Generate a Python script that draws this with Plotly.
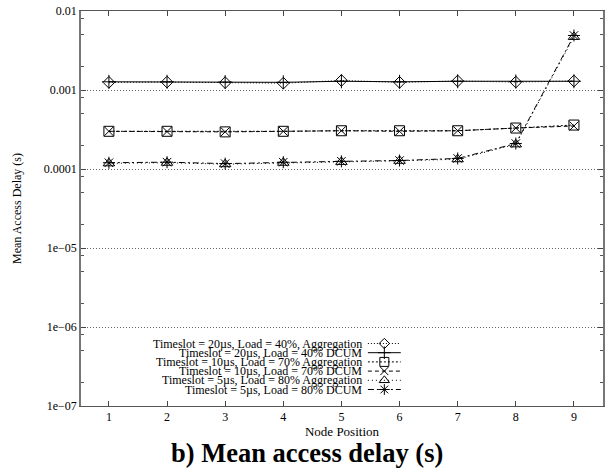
import plotly.graph_objects as go

# ---- data ----
node_position = [1, 2, 3, 4, 5, 6, 7, 8, 9]
agg_20us_40 = [0.00125, 0.00126, 0.00124, 0.00122, 0.00132, 0.00125, 0.00130, 0.00126, 0.00130]
dcum_20us_40 = [0.00127, 0.00127, 0.00126, 0.00125, 0.00129, 0.00127, 0.00129, 0.00128, 0.00129]
agg_10us_70 = [0.000300, 0.000300, 0.000295, 0.000300, 0.000305, 0.000305, 0.000305, 0.000330, 0.000360]
dcum_10us_70 = [0.000300, 0.000298, 0.000295, 0.000300, 0.000305, 0.000300, 0.000305, 0.000330, 0.000350]
agg_5us_80 = [0.000118, 0.000120, 0.000115, 0.000120, 0.000123, 0.000127, 0.000133, 0.000205, 0.00470]
dcum_5us_80 = [0.000120, 0.000122, 0.000117, 0.000122, 0.000125, 0.000128, 0.000136, 0.000210, 0.00490]

series_names = [
    "Timeslot = 20\u00b5s, Load = 40%, Aggregation",
    "Timeslot = 20\u00b5s, Load = 40% DCUM",
    "Timeslot = 10\u00b5s, Load = 70% Aggregation",
    "Timeslot = 10\u00b5s, Load = 70% DCUM",
    "Timeslot = 5\u00b5s, Load = 80% Aggregation",
    "Timeslot = 5\u00b5s, Load = 80% DCUM",
]
series_values = [agg_20us_40, dcum_20us_40, agg_10us_70, dcum_10us_70, agg_5us_80, dcum_5us_80]
y_tick_vals = [1e-7, 1e-6, 1e-5, 1e-4, 1e-3, 1e-2]
y_tick_text = ["1e\u221207", "1e\u221206", "1e\u221205", "0.0001", "0.001", "0.01"]

# ---- styles ----
symbols = ["diamond-open", "cross-thin-open", "square-open", "x-thin-open", "triangle-up-open", "asterisk-open"]
sizes = [9, 10, 10, 9, 10, 10]
dashes = ["1px,2px", "solid", "2px,2px", "4px,3px", "1px,3px", "6px,3px,2px,3px"]
FONT = "Liberation Serif, Times New Roman, serif"

W, H = 605, 470
L, R, T, B = 81, 0, 11, 64
PW, PH = W - L - R, H - T - B

fig = go.Figure()
for name, vals, sym, sz, dash in zip(series_names, series_values, symbols, sizes, dashes):
    fig.add_trace(go.Scatter(
        x=node_position, y=vals, mode="lines+markers", name=name,
        line=dict(color="black", width=1, dash=dash),
        marker=dict(symbol=sym, size=sz, color="black", line=dict(color="black", width=1)),
        showlegend=False,
    ))

# custom legend (text left, sample right) on an overlay pixel axis
text_right = 364
samp_x0, samp_x1 = 369, 402
row_y0, row_dy = 343.5, 9.2
for i, (name, sym, sz, dash) in enumerate(zip(series_names, symbols, sizes, dashes)):
    yy = row_y0 + i * row_dy - T
    fig.add_trace(go.Scatter(
        x=[samp_x0 - L, samp_x1 - L], y=[yy, yy], mode="lines",
        line=dict(color="black", width=1, dash=dash),
        xaxis="x2", yaxis="y2", showlegend=False, hoverinfo="skip",
    ))
    fig.add_trace(go.Scatter(
        x=[(samp_x0 + samp_x1) / 2 - L], y=[yy], mode="markers",
        marker=dict(symbol=sym, size=sz - 1, color="black", line=dict(color="black", width=1)),
        xaxis="x2", yaxis="y2", showlegend=False, hoverinfo="skip",
    ))
    fig.add_annotation(
        x=(text_right - L) / PW, y=1 - yy / PH, xref="paper", yref="paper",
        text=name, showarrow=False, xanchor="right", yanchor="middle",
        font=dict(family=FONT, size=12, color="black"),
        borderpad=0,
    )

fig.update_layout(
    width=W, height=H,
    margin=dict(l=L, r=R, t=T, b=B),
    paper_bgcolor="white", plot_bgcolor="white",
    font=dict(family=FONT, size=12, color="black"),
    showlegend=False,
    xaxis=dict(
        range=[0.52, 9.5], tickvals=node_position, ticks="inside", ticklen=5,
        tickcolor="#444", showline=True, linecolor="#555", linewidth=1, mirror="ticks",
        showgrid=False, zeroline=False,
        title=dict(text="Node Position", font=dict(family=FONT, size=13), standoff=2),
        tickfont=dict(family=FONT, size=12),
    ),
    yaxis=dict(
        type="log", range=[-7, -2], tickvals=y_tick_vals, ticktext=y_tick_text,
        ticks="inside", ticklen=5, tickcolor="#444",
        showline=True, linecolor="#777", linewidth=1.5, mirror="ticks",
        showgrid=True, gridcolor="#666", griddash="1px,2px", gridwidth=1,
        zeroline=False,
        minor=dict(ticks="inside", ticklen=3, tickcolor="#555",
                   tickvals=[m * 10 ** e for e in range(-7, -2) for m in (2, 5, 8)]),
        title=dict(text="Mean Access Delay (s)", font=dict(family=FONT, size=12), standoff=20),
        tickfont=dict(family=FONT, size=12),
    ),
    xaxis2=dict(domain=[0, 1], range=[0, PW], overlaying="x", visible=False, fixedrange=True),
    yaxis2=dict(domain=[0, 1], range=[PH, 0], overlaying="y", visible=False, fixedrange=True),
)

fig.add_annotation(
    x=(308 - L) / PW, y=0, xref="paper", yref="paper", yshift=-(B - 17), xanchor="center", yanchor="middle",
    text="<b>b) Mean access delay (s)</b>", showarrow=False,
    font=dict(family=FONT, size=26.5, color="black"),
)

fig.write_html(
    "out.html",
    config={"displayModeBar": False},
    post_script="document.body.style.margin='0';document.body.style.padding='0';document.body.style.overflow='hidden';",
)
